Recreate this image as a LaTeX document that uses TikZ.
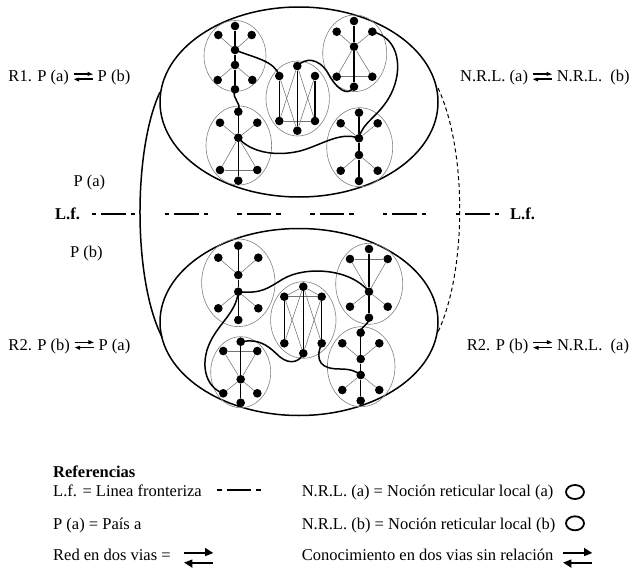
\documentclass[tikz,border=0pt]{standalone}
\usepackage{fontspec}
\setmainfont{Liberation Serif}
\newcommand\twoway[3]{\tikz[baseline=0pt,x=#1,y=#2,line width=#3]{\draw (0,0.75)--(0.78,0.75);\fill (0.72,1)--(1,0.74)--(0.72,0.58)--cycle;\draw (0.22,0.25)--(1,0.25);\fill (0.28,0)--(0,0.26)--(0.28,0.42)--cycle;}}
\begin{document}
\begin{tikzpicture}[x=1pt,y=-1pt,
  dot/.style={circle,fill=black,inner sep=0pt,minimum size=8.6pt},
  grp/.style={draw=black!50,line width=0.6pt},
  thinedge/.style={draw=black!55,line width=0.55pt},
  thickedge/.style={draw=black,line width=1.5pt},
  link/.style={draw=black,line width=1.5pt},
  bigell/.style={draw=black,line width=1.5pt},
  lbl/.style={font=\fontsize{16.5}{20}\selectfont,inner sep=0pt,anchor=base west},
  border/.style={line width=2pt,dash pattern=on 4.5pt off 5pt on 24.5pt off 5pt on 4.5pt off 29.3pt}]
\useasboundingbox (0,0) rectangle (641,573);
% big ellipses
\draw[bigell] (299,102) ellipse [x radius=139, y radius=95];
\draw[bigell] (299,322) ellipse [x radius=139, y radius=93.5];
% connecting arcs
\coordinate (arcL1) at (160,92);
\coordinate (arcL2) at (162,337);
\coordinate (arcR1) at (438,88);
\coordinate (arcR2) at (438,332);
\draw[line width=1.5pt] (arcL1) .. controls (133,150) and (133,280) .. (arcL2);
\draw[line width=1pt,dash pattern=on 4pt off 3pt] (arcR1) .. controls (467,150) and (467,270) .. (arcR2);
% border line
\coordinate (lfA) at (91.7,214);
\coordinate (lfB) at (503,214);
\draw[border] (lfA) -- (lfB);
% small group ellipses
\draw[grp] (235,56) ellipse [x radius=31, y radius=35.5];
\draw[grp] (238.8,145.5) ellipse [x radius=32.8, y radius=39.5];
\draw[grp] (297.7,98.5) ellipse [x radius=31.7, y radius=37.5];
\draw[grp] (354.7,53.3) ellipse [x radius=32, y radius=38.3];
\draw[grp] (359.7,147.2) ellipse [x radius=33, y radius=39.5];
\draw[grp] (238.3,282.8) ellipse [x radius=36.7, y radius=43.8];
\draw[grp] (240.7,372.2) ellipse [x radius=30, y radius=35.5];
\draw[grp] (303.3,320) ellipse [x radius=32.7, y radius=38.3];
\draw[grp] (369.2,283.8) ellipse [x radius=33.5, y radius=40.5];
\draw[grp] (361.2,366.7) ellipse [x radius=33.8, y radius=40];
% dots
\foreach \n/\x/\y in {
 a1/235/26, a2/218.3/35, a3/251.7/35, a4/235/50, a5/235/65, a6/217.7/80, a7/252.3/80, a8/235/89.3,
 b1/238.3/111.7, b2/220/122.7, b3/257.3/122.7, b4/238.3/137.7, b5/220/170, b6/257.3/170, b7/238.3/180.7,
 c1/279.3/76, c2/297.3/66, c3/315/76, c4/279.3/121, c5/297.3/130.7, c6/315/121,
 d1/354/21, d2/336.7/31.7, d3/372.3/31.7, d4/354/46.7, d5/336.7/76.7, d6/372.3/76.7, d7/354/86.7,
 e1/359/112.7, e2/340.7/123.3, e3/377.7/123.3, e4/359/138.3, e5/359/155, e6/340.7/170.7, e7/377.7/170.7, e8/359/181,
 f1/238.3/245.7, f2/218.3/257.7, f3/258.3/257.7, f4/238.3/275, f5/238.3/291.7, f6/218.3/308.3, f7/258.3/308.3, f8/238.3/320,
 g1/240.7/341.7, g2/223.3/351, g3/257.3/351, g4/240.7/379.3, g5/223.3/393.3, g6/257.3/393.3, g7/240.7/402.7,
 h1/303.3/286.7, h2/284.3/296.7, h3/321.7/296.7, h4/284.3/343.3, h5/321.7/343.3, h6/303.3/353.3,
 i1/369/249, i2/350/259, i3/387.7/259, i4/369/291.7, i5/350/306.7, i6/387.7/306.7, i7/369/317.7,
 j1/360.7/332.7, j2/342.3/343.3, j3/379.3/343.3, j4/360.7/359, j5/360.7/375, j6/342.3/390, j7/379.3/390, j8/360.7/400.7}
 \node[dot] (\n) at (\x,\y) {};
% thin edges
\foreach \u/\v in {a4/a2,a4/a3,a5/a6,a5/a7,
 b4/b2,b4/b3,b4/b5,b4/b6,b5/b6,
 c1/c5,c3/c5,c2/c4,c2/c6,c4/c6,
 d4/d2,d4/d3,d4/d5,d4/d6,d5/d6,
 e4/e2,e4/e3,e5/e6,e5/e7,
 f4/f2,f4/f3,f5/f6,f5/f7,
 g2/g3,g4/g2,g4/g3,g4/g5,g4/g6,
 h2/h3,h1/h2,h1/h3,h2/h6,h3/h6,h1/h4,h1/h5,
 i2/i3,i4/i2,i4/i3,i4/i5,i4/i6,
 j4/j2,j4/j3,j5/j6,j5/j7}
 \draw[thinedge] (\u) -- (\v);
% thick edges
\draw[thickedge] (a1)--(a4)--(a5)--(a8);
\draw[thickedge] (b1)--(b4)--(b7);
\draw[thickedge] (c1)--(c4);
\draw[thickedge] (c2)--(c5);
\draw[thickedge] (c3)--(c6);
\draw[thickedge] (d1)--(d4)--(d7);
\draw[thickedge] (e1)--(e4)--(e5)--(e8);
\draw[thickedge] (f1)--(f4)--(f5)--(f8);
\draw[thickedge] (g1)--(g4)--(g7);
\draw[thickedge] (h2)--(h4);
\draw[thickedge] (h1)--(h6);
\draw[thickedge] (h3)--(h5);
\draw[thickedge] (i1)--(i4)--(i7);
\draw[thickedge] (j1)--(j4)--(j5)--(j8);
% links upper
\draw[link] (a4.center) .. controls (255,58) and (275,61) .. (c1.center);
\draw[link] (a8.center) .. controls (231,100) and (242,101) .. (b1.center);
\draw[link] (c2.center) .. controls (305,58) and (318,57) .. (328,73) .. controls (337,90) and (348,97) .. (d7.center);
\draw[link] (d3.center) .. controls (400,38) and (403,70) .. (391,94) .. controls (380,116) and (362,122) .. (e4.center);
\draw[link] (b4.center) .. controls (250,152) and (275,157) .. (300,151) .. controls (322,145) and (340,131) .. (e4.center);
% links lower
\draw[link] (f5.center) .. controls (262,294) and (268,288) .. (283,279) .. controls (305,266) and (350,268) .. (i4.center);
\draw[link] (f5.center) .. controls (236,315) and (215,325) .. (207,350) .. controls (200,375) and (212,390) .. (g5.center);
\draw[link] (g1.center) .. controls (262,338) and (270,348) .. (280,357) .. controls (290,365) and (300,362) .. (h6.center);
\draw[link] (h5.center) .. controls (314,362) and (322,369) .. (340,369) .. controls (350,369) and (356,371) .. (j5.center);
\draw[link] (i7.center) .. controls (368,327) and (362,324) .. (j1.center);
% labels
\node[lbl] (r1) at (8.3,81.7) {R1. P (a) \twoway{19pt}{10pt}{1.5pt} P (b)};
\node[lbl] (pa) at (73.3,186) {P (a)};
\node[lbl,font=\fontsize{16.5}{20}\selectfont\bfseries] (lfl) at (55,219.5) {L.f.};
\node[lbl] (pb) at (70,257.7) {P (b)};
\node[lbl] (r2l) at (8.3,350) {R2. P (b) \twoway{19pt}{10pt}{1.5pt} P (a)};
\node[lbl] (nrl) at (460,81.7) {N.R.L. (a) \twoway{19pt}{10pt}{1.5pt} N.R.L.\ \ (b)};
\node[lbl,font=\fontsize{16.5}{20}\selectfont\bfseries] (lfr) at (510,219.5) {L.f.};
\node[lbl] (r2r) at (466.7,350) {R2. P (b) \twoway{19pt}{10pt}{1.5pt} N.R.L.\ \ (a)};
% legend
\node[lbl,font=\fontsize{16.5}{20}\selectfont\bfseries] (ref) at (53,477) {Referencias};
\node[lbl] (leg1) at (53,496) {L.f. = Linea fronteriza};
\coordinate (icA) at (217,489.5);
\coordinate (icB) at (262,489.5);
\draw[border] (icA) -- (icB);
\node[lbl] (leg2) at (53,529) {P (a) = País a};
\node[lbl] (leg3) at (53,560) {Red en dos vias =};
\node[inner sep=0pt,anchor=south west] (legarr1) at (183,568) {\twoway{29pt}{20pt}{2pt}};
\node[lbl] (leg4) at (301.6,496) {N.R.L. (a) = Noción reticular local (a)};
\draw[line width=1.8pt] (575,492) ellipse [x radius=9, y radius=7];
\node[lbl] (leg5) at (301.6,529) {N.R.L. (b) = Noción reticular local (b)};
\draw[line width=1.8pt] (575,523.3) ellipse [x radius=9, y radius=7];
\node[lbl] (leg6) at (301.6,560) {Conocimiento en dos vias sin relación};
\node[inner sep=0pt,anchor=south west] (legarr2) at (562,568) {\twoway{29pt}{20pt}{2pt}};
\end{tikzpicture}
\end{document}
